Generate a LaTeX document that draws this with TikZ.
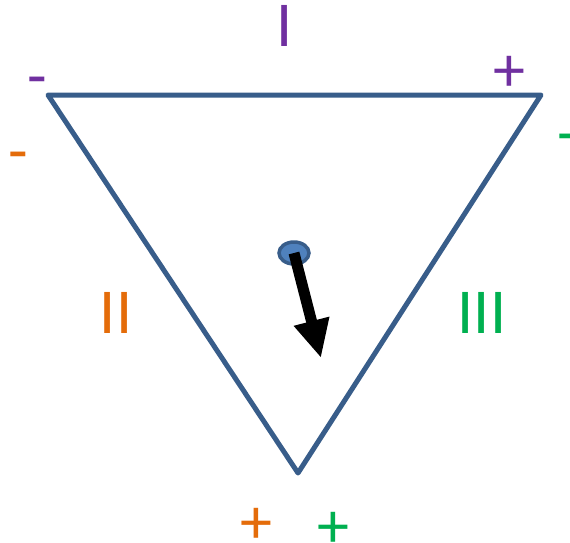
\documentclass[tikz,border=0pt]{standalone}
\usepackage{fontspec}
\setmainfont{Carlito}
\usetikzlibrary{arrows.meta,shapes.geometric,positioning}
\definecolor{edgeblue}{HTML}{385D8A}
\definecolor{dotblue}{HTML}{4F81BD}
\definecolor{signpurple}{HTML}{7030A0}
\definecolor{signorange}{HTML}{E46C0A}
\definecolor{signgreen}{HTML}{00B050}

\begin{document}
\begin{tikzpicture}[x=1pt, y=-1pt, sign/.style={anchor=base, inner sep=0pt, font=\fontsize{64}{64}\selectfont}]
\useasboundingbox (0,0) rectangle (570,542);
% triangle
\coordinate (A) at (48,95);
\coordinate (B) at (541,95);
\coordinate (C) at (298,473);
\draw [line width=5pt, edgeblue, line join=round] (A) -- (B) -- (C) -- cycle;

% centre point and arrow
\node [ellipse, fill=dotblue, draw=edgeblue, line width=3.5pt, minimum width=30pt, minimum height=22pt, inner sep=0pt] (P) at (294,253) {};
\coordinate (tip) at (321,358);
\draw [line width=11pt, -{Triangle[width=34pt,length=38pt]}] (P.center) -- (tip);

% side numbers
\node [sign, signpurple] (I) at (285,46) {I};
\node [sign, signorange] (II) at (116,333) {II};
\node [sign, signgreen] (III) at (482,333) {III};

% signs at the corners
\node [sign, signpurple] (Iminus) at (37,97) {-};
\node [sign, signpurple] (Iplus) at (509,91) {+};
\node [sign, signorange] (IIminus) at (18,172) {-};
\node [sign, signorange] (IIplus) at (256,543) {+};
\node [sign, signgreen] (IIIminus) at (567,154) {-};
\node [sign, signgreen] (IIIplus) at (333,547) {+};
\end{tikzpicture}
\end{document}
